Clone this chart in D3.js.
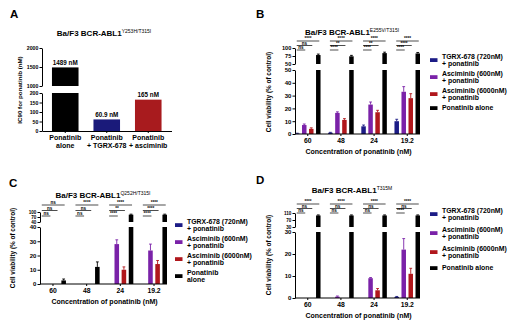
<!DOCTYPE html>
<html>
<head>
<meta charset="utf-8">
<script src="https://cdn.jsdelivr.net/npm/d3@7"></script>
<style>
  body { margin: 0; background: #fff; }
  svg { font-family: "Liberation Sans", Arial, sans-serif; font-weight: bold; }
</style>
</head>
<body>
<svg id="fig" width="520" height="331"></svg>
<script>
// panel A data
var aCategories = [["Ponatinib", "alone"], ["Ponatinib", "+ TGRX-678"], ["Ponatinib", "+ asciminib"]];
var aValues = [1489, 60.9, 165];
var aValueLabels = ["1489 nM", "60.9 nM", "165 nM"];

// panels B-D share the groups
var groups = ["60", "48", "24", "19.2"];

var bTgrx = [0.4, 1.0, 6, 10];
var bAsc600 = [7, 16.5, 23, 33];
var bAsc6000 = [4, 11, 17, 28];
var bPonatinib = [78, 74, 84, 83];
var bTgrxErr = [0.2, 0.3, 1, 1.5];
var bAsc600Err = [0.8, 0.8, 2, 4];
var bAsc6000Err = [0.8, 1, 1.5, 3.5];
var bPonatinibErr = [3, 3, 3, 3];
var bSig = [["****", "ns", "ns"], ["****", "**", "****"], ["****", "**", "****"], ["****", "****", "****"]];

var cTgrx = [0, 0, 0, 0];
var cAsc600 = [0, 0, 28, 23.5];
var cAsc6000 = [0, 0, 10, 14];
var cPonatinib = [2.5, 12, 84, 84];
var cTgrxErr = [0, 0, 0, 0];
var cAsc600Err = [0, 0, 3, 4.5];
var cAsc6000Err = [0, 0, 2, 2.5];
var cPonatinibErr = [1, 3.5, 3, 3];
var cSig = [["ns", "ns", "ns"], ["****", "ns", "ns"], ["****", "**", "****"], ["****", "****", "****"]];

var dTgrx = [0, 0, 0, 0.5];
var dAsc600 = [0, 0.6, 9, 22];
var dAsc6000 = [0, 0, 3.5, 11];
var dPonatinib = [96, 96, 96, 96];
var dTgrxErr = [0, 0, 0, 0.2];
var dAsc600Err = [0, 0.3, 0.3, 5];
var dAsc6000Err = [0, 0, 0.8, 2.5];
var dPonatinibErr = [3, 3, 3, 3];
var dSig = [["****", "ns", "ns"], ["****", "ns", "ns"], ["****", "ns", "ns"], ["****", "ns", "****"]];

var legendItems = [["TGRX-678 (720nM)", "+ ponatinib"], ["Asciminib (600nM)", "+ ponatinib"], ["Asciminib (6000nM)", "+ ponatinib"], ["Ponatinib alone"]];
var legendItemsC = [["TGRX-678 (720nM)", "+ ponatinib"], ["Asciminib (600nM)", "+ ponatinib"], ["Asciminib (6000nM)", "+ ponatinib"], ["Ponatinib", "alone"]];

var colors = ["#1c1c86", "#7a22a8", "#b0171c", "#000000"];

var svg = d3.select("#fig");

function styleAxis(sel, size) {
  sel.attr("font-family", null).attr("font-size", size);
  sel.selectAll("path, line").attr("stroke", "#000").attr("stroke-width", 1);
  sel.selectAll("text").attr("fill", "#000");
}

function title(x, y, main, sup) {
  var t = svg.append("text").attr("x", x).attr("y", y).attr("text-anchor", "middle").attr("font-size", 8);
  t.append("tspan").text(main);
  t.append("tspan").attr("font-size", 5).attr("dy", -3.5).attr("font-weight", "normal").text(sup);
}

function letter(x, y, s) {
  svg.append("text").attr("x", x).attr("y", y).attr("font-size", 11.5).text(s);
}

function yLabel(x, y, s, size) {
  svg.append("text").attr("transform", "translate(" + x + "," + y + ") rotate(-90)")
    .attr("text-anchor", "middle").attr("font-size", size).text(s);
}

// ---------- panel A ----------
letter(10, 18, "A");
title(104, 36, "Ba/F3 BCR-ABL1", "Y253H/T315I");

var ax = d3.scaleBand().domain(d3.range(3)).range([42, 171.5]).paddingInner(0.36).paddingOuter(0.24);
var ayLow = d3.scaleLinear().domain([0, 200]).range([131, 93]);
var ayHigh = d3.scaleLinear().domain([1000, 2000]).range([86, 48]);
var aColors = ["#000000", "#1a1a7a", "#a81b1e"];

var ag = svg.append("g");
ag.selectAll("rect.low").data(aValues).enter().append("rect")
  .attr("x", (d, i) => ax(i)).attr("width", ax.bandwidth())
  .attr("y", d => ayLow(Math.min(d, 200)))
  .attr("height", d => ayLow(0) - ayLow(Math.min(d, 200)))
  .attr("fill", (d, i) => aColors[i]);
ag.selectAll("rect.high").data(aValues.filter(d => d > 1000)).enter().append("rect")
  .attr("x", ax(0)).attr("width", ax.bandwidth())
  .attr("y", d => ayHigh(d))
  .attr("height", d => ayHigh(1000) - ayHigh(d))
  .attr("fill", aColors[0]);

ag.selectAll("text.val").data(aValues).enter().append("text")
  .attr("x", (d, i) => ax(i) + ax.bandwidth() / 2)
  .attr("y", d => (d > 1000 ? ayHigh(d) : ayLow(d)) - 2.5)
  .attr("text-anchor", "middle").attr("font-size", 6.3)
  .text((d, i) => aValueLabels[i]);

ag.append("g").attr("transform", "translate(42,0)")
  .call(d3.axisLeft(ayLow).tickValues([0, 50, 100, 150, 200]).tickFormat(d3.format("d")).tickSize(2.5).tickSizeOuter(0).tickPadding(1.2))
  .call(styleAxis, 5.2);
ag.append("g").attr("transform", "translate(42,0)")
  .call(d3.axisLeft(ayHigh).tickValues([1000, 1500, 2000]).tickFormat(d3.format("d")).tickSize(2.5).tickSizeOuter(0).tickPadding(1.2))
  .call(styleAxis, 5.2);
ag.append("g").attr("transform", "translate(0," + ayLow(0) + ")")
  .call(d3.axisBottom(ax).tickSize(2).tickSizeOuter(0).tickFormat(""))
  .call(styleAxis, 6);

aCategories.forEach(function (lines, i) {
  var t = ag.append("text").attr("x", ax(i) + ax.bandwidth() / 2).attr("y", 140)
    .attr("text-anchor", "middle").attr("font-size", 7);
  lines.forEach(function (l, k) {
    t.append("tspan").attr("x", ax(i) + ax.bandwidth() / 2).attr("dy", k ? 8 : 0).text(l);
  });
});
yLabel(22, 90, "IC90 for ponatinib (nM)", 6.2);

// ---------- panels B-D ----------
function barPanel(cfg) {
  var g = svg.append("g");
  var x = d3.scaleBand().domain(groups).range([cfg.x0, cfg.x1]).paddingInner(0.23);
  var xs = d3.scaleBand().domain(d3.range(4)).range([0, x.bandwidth()]).paddingInner(0.36);
  var yLow = d3.scaleLinear().domain(cfg.lowDomain).range(cfg.lowRange);
  var yHigh = d3.scaleLinear().domain(cfg.highDomain).range(cfg.highRange);
  var lowMax = cfg.lowDomain[1], highMin = cfg.highDomain[0];

  var data = [];
  groups.forEach(function (grp, gi) {
    cfg.series.forEach(function (vals, si) {
      data.push({ grp: grp, si: si, v: vals[gi], e: cfg.errors[si][gi] });
    });
  });
  var bx = d => x(d.grp) + xs(d.si);
  var bw = xs.bandwidth();

  g.selectAll("rect.low").data(data.filter(d => d.v > 0)).enter().append("rect")
    .attr("x", bx).attr("width", bw)
    .attr("y", d => yLow(Math.min(d.v, lowMax)))
    .attr("height", d => Math.max(0.6, yLow(0) - yLow(Math.min(d.v, lowMax))))
    .attr("fill", d => colors[d.si]);
  g.selectAll("rect.high").data(data.filter(d => d.v > highMin)).enter().append("rect")
    .attr("x", bx).attr("width", bw)
    .attr("y", d => yHigh(d.v))
    .attr("height", d => yHigh(highMin) - yHigh(d.v))
    .attr("fill", d => colors[d.si]);

  // error bars
  var err = g.selectAll("g.err").data(data.filter(d => d.e > 0)).enter().append("g")
    .attr("stroke", d => colors[d.si]).attr("stroke-width", 0.9);
  var sc = d => (d.v > highMin ? yHigh : yLow);
  err.append("line")
    .attr("x1", d => bx(d) + bw / 2).attr("x2", d => bx(d) + bw / 2)
    .attr("y1", d => sc(d)(d.v)).attr("y2", d => sc(d)(d.v + d.e));
  err.append("line")
    .attr("x1", d => bx(d) + bw / 2 - 1.4).attr("x2", d => bx(d) + bw / 2 + 1.4)
    .attr("y1", d => sc(d)(d.v + d.e)).attr("y2", d => sc(d)(d.v + d.e));

  // axes (broken y axis: two segments)
  g.append("g").attr("transform", "translate(" + cfg.x0 + ",0)")
    .call(d3.axisLeft(yLow).tickValues(cfg.lowTicks).tickSize(2.5).tickSizeOuter(0).tickPadding(1.2))
    .call(styleAxis, 6);
  g.append("g").attr("transform", "translate(" + cfg.x0 + ",0)")
    .call(d3.axisLeft(yHigh).tickValues(cfg.highTicks).tickSize(2.5).tickSizeOuter(0).tickPadding(1.2))
    .call(styleAxis, cfg.highFont);
  var xa = g.append("g").attr("transform", "translate(0," + yLow(0) + ")")
    .call(d3.axisBottom(x).tickSize(2).tickSizeOuter(0).tickPadding(2))
    .call(styleAxis, 6.8);
  xa.select(".domain").attr("d", "M" + cfg.x0 + ",0H" + cfg.x1);

  // significance brackets
  var targets = [3, 2, 1];
  groups.forEach(function (grp, gi) {
    targets.forEach(function (si, k) {
      var xA = x(grp) + xs(0) + bw / 2 - 0.5;
      var xB = x(grp) + xs(si) + bw / 2 + 1;
      var yy = cfg.sigY[k];
      g.append("line").attr("x1", xA).attr("x2", xB).attr("y1", yy).attr("y2", yy)
        .attr("stroke", "#000").attr("stroke-width", 0.7);
      g.append("text").attr("x", (xA + xB) / 2).attr("y", yy - 0.7)
        .attr("text-anchor", "middle").attr("font-size", 4.6)
        .text(cfg.sig[gi][k]);
    });
  });

  svg.append("text").attr("x", (cfg.x0 + cfg.x1) / 2 + 1).attr("y", yLow(0) + 20)
    .attr("text-anchor", "middle").attr("font-size", 7).text("Concentration of ponatinib (nM)");
  yLabel(cfg.yLabelX, cfg.yLabelY, "Cell viability (% of control)", 6.4);

  // legend
  cfg.legend.forEach(function (lines, i) {
    var top = cfg.legY + i * cfg.legStep;
    var mid = lines.length > 1 ? top + 3 : top;
    svg.append("rect").attr("x", cfg.legX).attr("y", mid - 1.8).attr("width", 7.5).attr("height", 3.8)
      .attr("fill", colors[i]);
    lines.forEach(function (l, k) {
      svg.append("text").attr("x", cfg.legX + 12).attr("y", top + 2.4 + k * 6.2)
        .attr("font-size", 6.9).text(l);
    });
  });
}

letter(256, 18, "B");
title(352, 35, "Ba/F3 BCR-ABL1", "E255V/T315I");
barPanel({
  x0: 295, x1: 420,
  lowDomain: [0, 50], lowRange: [134, 70], lowTicks: [0, 10, 20, 30, 40, 50],
  highDomain: [50, 100], highRange: [64, 48], highTicks: [50, 75, 100], highFont: 5.6,
  series: [bTgrx, bAsc600, bAsc6000, bPonatinib],
  errors: [bTgrxErr, bAsc600Err, bAsc6000Err, bPonatinibErr],
  sig: bSig, sigY: [41, 45.5, 50],
  yLabelX: 271, yLabelY: 92,
  legend: legendItems, legX: 430, legY: 57, legStep: 17
});

letter(9, 187, "C");
title(103, 198, "Ba/F3 BCR-ABL1", "Q252H/T315I");
barPanel({
  x0: 40, x1: 167,
  lowDomain: [0, 40], lowRange: [284, 227], lowTicks: [0, 10, 20, 30, 40],
  highDomain: [40, 100], highRange: [222, 212], highTicks: [40, 70, 100], highFont: 4.6,
  series: [cTgrx, cAsc600, cAsc6000, cPonatinib],
  errors: [cTgrxErr, cAsc600Err, cAsc6000Err, cPonatinibErr],
  sig: cSig, sigY: [205, 210.5, 216],
  yLabelX: 15, yLabelY: 248,
  legend: legendItemsC, legX: 175, legY: 222, legStep: 17
});

letter(256, 184, "D");
title(352, 193, "Ba/F3 BCR-ABL1", "T315M");
barPanel({
  x0: 295, x1: 420,
  lowDomain: [0, 30], lowRange: [298, 232], lowTicks: [0, 10, 20, 30],
  highDomain: [30, 110], highRange: [227, 213], highTicks: [30, 70, 110], highFont: 4.6,
  series: [dTgrx, dAsc600, dAsc6000, dPonatinib],
  errors: [dTgrxErr, dAsc600Err, dAsc6000Err, dPonatinibErr],
  sig: dSig, sigY: [204, 208.5, 213],
  yLabelX: 271, yLabelY: 255,
  legend: legendItems, legX: 430, legY: 211, legStep: 19
});
</script>
</body>
</html>
